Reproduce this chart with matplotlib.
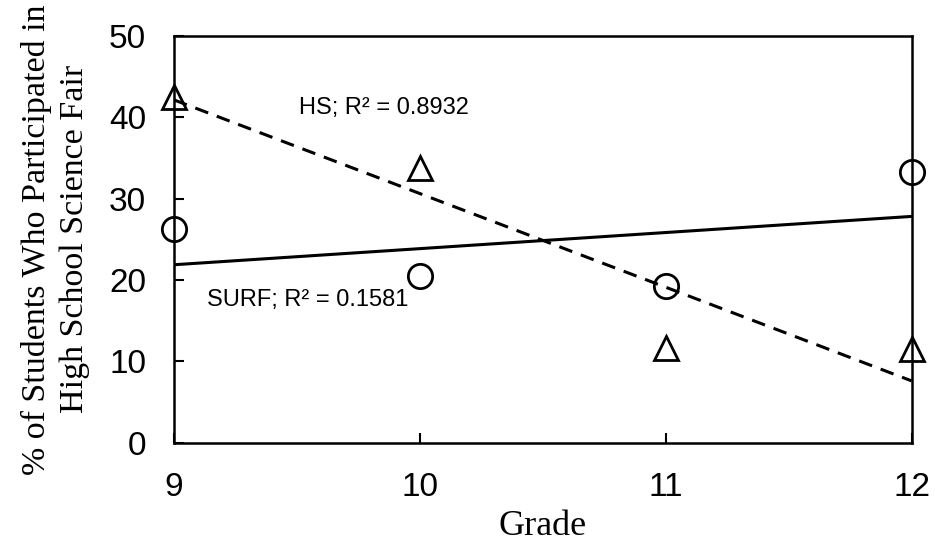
import numpy as np
import matplotlib
matplotlib.use("Agg")
import matplotlib.pyplot as plt

# data
grades = [9, 10, 11, 12]
hs_pct = [42.5, 33.8, 11.7, 11.5]      # triangles
surf_pct = [26.3, 20.5, 19.3, 33.3]    # circles
hs_label = "HS; R² = 0.8932"
surf_label = "SURF; R² = 0.1581"
y_ticks = [0, 10, 20, 30, 40, 50]

sans = ["Liberation Sans", "DejaVu Sans"]
serif = ["Liberation Serif", "DejaVu Serif"]

fig = plt.figure(figsize=(9.35, 5.44), dpi=100)
ax = fig.add_axes([0.186, 0.186, 0.789, 0.748])

x = np.array(grades, dtype=float)

# linear trendlines, like excel
hs_fit = np.polyfit(x, hs_pct, 1)
surf_fit = np.polyfit(x, surf_pct, 1)
x_line = np.array([x.min(), x.max()])
ax.plot(x_line, np.polyval(hs_fit, x_line), color="black", lw=2.2,
        ls=(0, (4.5, 3)), zorder=2)
ax.plot(x_line, np.polyval(surf_fit, x_line), color="black", lw=2.2, zorder=2)

# markers (hollow)
ax.plot(x, hs_pct, ls="none", marker="^", ms=17.5, mfc="none", mec="black",
        mew=2.0, zorder=3, clip_on=False)
ax.plot(x, surf_pct, ls="none", marker="o", ms=17.5, mfc="none", mec="black",
        mew=2.0, zorder=3, clip_on=False)

ax.text(9.51, 41.2, hs_label, fontsize=17, family=sans, va="center", ha="left")
ax.text(9.135, 17.6, surf_label, fontsize=17, family=sans, va="center", ha="left")

ax.set_xlim(9, 12)
ax.set_ylim(0, 50)
ax.set_xticks(grades)
ax.set_yticks(y_ticks)
ax.tick_params(direction="in", length=7, width=1.5, labelsize=24)
ax.tick_params(axis="x", pad=21)
ax.tick_params(axis="y", pad=20)
for lab in ax.get_xticklabels() + ax.get_yticklabels():
    lab.set_family(sans)
for sp in ax.spines.values():
    sp.set_linewidth(1.8)

ax.set_xlabel("Grade", fontsize=26, family=serif, labelpad=5)
ax.set_ylabel("% of Students Who Participated in\nHigh School Science Fair",
              fontsize=24.5, family=serif, linespacing=1.3, labelpad=14)

fig.savefig("out.png", dpi=100)
